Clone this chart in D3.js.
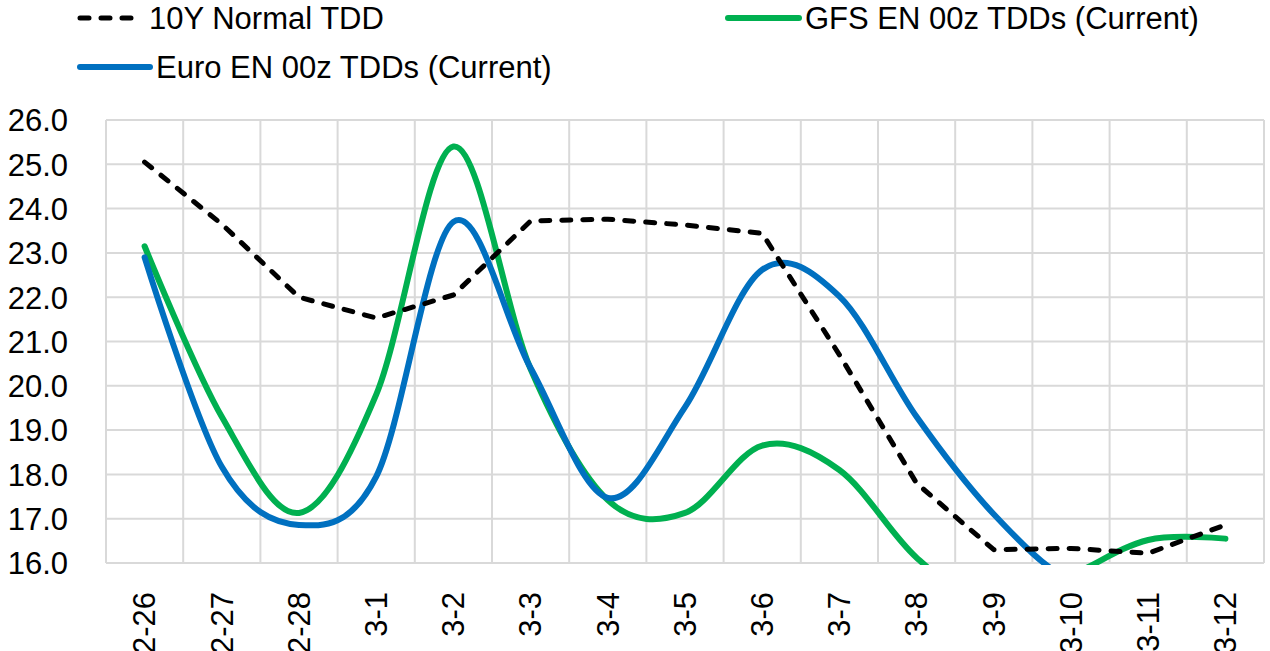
<!DOCTYPE html>
<html>
<head>
<meta charset="utf-8">
<script src="https://cdn.jsdelivr.net/npm/d3@7"></script>
<style>
  body { margin: 0; background: #fff; }
  svg text { font-family: 'Liberation Sans', Arial, sans-serif; fill: #000; }
</style>
</head>
<body>
<div class="visHolder"></div>
<script>
var days = ['2-26', '2-27', '2-28', '3-1', '3-2', '3-3', '3-4', '3-5', '3-6', '3-7', '3-8', '3-9', '3-10', '3-11', '3-12'];
var normal10y = [25.05, 23.65, 22.0, 21.53, 22.05, 23.72, 23.76, 23.63, 23.44, 20.7, 17.8, 16.3, 16.33, 16.22, 16.86];
var gfsEn = [23.15, 19.3, 17.13, 19.8, 25.4, 20.38, 17.42, 17.13, 18.65, 18.1, 16.12, 15.0, 15.72, 16.52, 16.55];
var euroEn = [22.9, 18.17, 16.86, 17.95, 23.7, 20.4, 17.47, 19.52, 22.62, 22.02, 19.3, 17.1, 15.6, 15.45, 15.35];
var yTicks = [16, 17, 18, 19, 20, 21, 22, 23, 24, 25, 26];

var width = 1270,
    height = 651,
    plotLeft = 106,
    plotRight = 1264,
    plotTop = 120,
    plotBottom = 563;

var svg = d3
    .select('.visHolder')
    .append('svg')
    .attr('width', width)
    .attr('height', height);

var xScale = d3.scaleBand().domain(days).range([plotLeft, plotRight]);
var yScale = d3.scaleLinear().domain([16, 26]).range([plotBottom, plotTop]);

// gridlines
svg.append('g')
    .selectAll('line')
    .data(yTicks)
    .enter()
    .append('line')
    .attr('x1', plotLeft)
    .attr('x2', plotRight)
    .attr('y1', function (d) { return yScale(d); })
    .attr('y2', function (d) { return yScale(d); })
    .attr('stroke', '#d9d9d9')
    .attr('stroke-width', 2);

var bounds = days.map(function (d) { return xScale(d); }).concat([plotRight]);
svg.append('g')
    .selectAll('line')
    .data(bounds)
    .enter()
    .append('line')
    .attr('x1', function (d) { return d; })
    .attr('x2', function (d) { return d; })
    .attr('y1', plotTop)
    .attr('y2', plotBottom)
    .attr('stroke', '#d9d9d9')
    .attr('stroke-width', 2);

// y axis labels
var yAxis = d3.axisLeft(yScale).tickValues(yTicks).tickFormat(d3.format('.1f')).tickSize(0).tickPadding(38);
svg.append('g')
    .attr('transform', 'translate(' + plotLeft + ',0)')
    .call(yAxis)
    .call(function (g) { g.select('.domain').remove(); })
    .selectAll('text')
    .style('font-size', '31px')
    .attr('dy', '0.35em');

// x axis labels, rotated
var xAxis = d3.axisBottom(xScale).tickSize(0).tickPadding(0);
svg.append('g')
    .attr('transform', 'translate(0,' + plotBottom + ')')
    .call(xAxis)
    .call(function (g) { g.select('.domain').remove(); })
    .selectAll('text')
    .style('font-size', '31px')
    .attr('text-anchor', 'end')
    .attr('transform', 'rotate(-90)')
    .attr('x', -29)
    .attr('y', 0)
    .attr('dy', '0.35em');

svg.append('clipPath')
    .attr('id', 'plot-clip')
    .append('rect')
    .attr('x', plotLeft - 10)
    .attr('y', plotTop - 20)
    .attr('width', plotRight - plotLeft + 20)
    .attr('height', plotBottom - plotTop + 22);

var smooth = d3.line()
    .x(function (d, i) { return xScale(days[i]) + xScale.bandwidth() / 2; })
    .y(function (d) { return yScale(d); })
    .curve(d3.curveCatmullRom.alpha(0));

var straight = d3.line()
    .x(function (d, i) { return xScale(days[i]) + xScale.bandwidth() / 2; })
    .y(function (d) { return yScale(d); });

var lines = svg.append('g').attr('clip-path', 'url(#plot-clip)');

lines.append('path')
    .attr('d', smooth(gfsEn))
    .attr('fill', 'none')
    .attr('stroke', '#00b050')
    .attr('stroke-width', 6)
    .attr('stroke-linecap', 'round');

lines.append('path')
    .attr('d', smooth(euroEn))
    .attr('fill', 'none')
    .attr('stroke', '#0070c0')
    .attr('stroke-width', 6)
    .attr('stroke-linecap', 'round');

lines.append('path')
    .attr('d', straight(normal10y))
    .attr('fill', 'none')
    .attr('stroke', '#000')
    .attr('stroke-width', 5)
    .attr('stroke-linecap', 'round')
    .attr('stroke-linejoin', 'round')
    .attr('stroke-dasharray', '9,12');

// legend
var legend = [
    { name: '10Y Normal TDD', color: '#000', dash: '9,12', w: 5, x: 80, x2: 143, y: 18 },
    { name: 'GFS EN 00z TDDs (Current)', color: '#00b050', dash: null, w: 6, x: 728, x2: 799, y: 18 },
    { name: 'Euro EN 00z TDDs (Current)', color: '#0070c0', dash: null, w: 6, x: 80, x2: 150, y: 67 }
];

var items = svg.append('g')
    .selectAll('g')
    .data(legend)
    .enter()
    .append('g');

items.append('line')
    .attr('x1', function (d) { return d.x; })
    .attr('x2', function (d) { return d.x2; })
    .attr('y1', function (d) { return d.y; })
    .attr('y2', function (d) { return d.y; })
    .attr('stroke', function (d) { return d.color; })
    .attr('stroke-width', function (d) { return d.w; })
    .attr('stroke-linecap', 'round')
    .attr('stroke-dasharray', function (d) { return d.dash; });

items.append('text')
    .attr('x', function (d) { return d.x2 + 6; })
    .attr('y', function (d) { return d.y; })
    .attr('dy', '0.35em')
    .style('font-size', '31px')
    .text(function (d) { return d.name; });
</script>
</body>
</html>
